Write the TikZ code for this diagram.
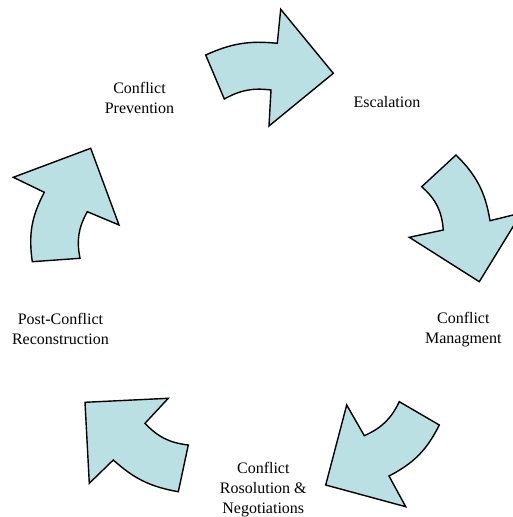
\documentclass[tikz,border=0pt]{standalone}
\usepackage{fontspec}
\setmainfont{Liberation Serif}
\definecolor{arrowfill}{RGB}{187,224,227}
\begin{document}
\begin{tikzpicture}[x=1pt,y=1pt,
  arr/.style={draw=black,fill=arrowfill,line width=1.4pt,line join=miter},
  lbl/.style={align=center,inner sep=0pt,font=\fontsize{16}{20}\selectfont}]
\useasboundingbox (0,0) rectangle (513,517);
% Arrow 1 (top)
\draw[arr] (205.7,462) to[bend left=15] (277.3,473.7) -- (280.7,507.7) -- (333.3,443.7) -- (269,391) -- (271,427) to[bend right=18] (224.3,418) -- cycle;
% Arrow 2 (right)
\draw[arr] (421.7,330.3) -- (456,362) to[bend left=18] (490,296.3) -- (521.5,304.1) -- (479.3,235.3) -- (409.3,279.7) -- (443.3,287) to[bend right=22] (421.7,330.3) -- cycle;
% Arrow 3 (bottom right)
\draw[arr] (399.3,115.3) -- (439.3,92) to[bend left=18] (389,41) -- (405.7,10.3) -- (325.7,32) -- (346.7,112) -- (364.3,81.3) to[bend right=20] (399.3,115.3) -- cycle;
% Arrow 4 (bottom left)
\draw[arr] (188.3,72) -- (178.3,25.3) to[bend left=16] (113.3,57) -- (89.3,33.7) -- (85,114.7) -- (168.3,118.7) -- (145,93.7) to[bend right=20] (188.3,72) -- cycle;
% Arrow 5 (left)
\draw[arr] (80,258.7) -- (32.3,255.3) to[bend left=18] (44.3,324.7) -- (13.3,339.7) -- (90.7,368.7) -- (119,292) -- (87.3,305.3) to[bend right=20] (80,258.7) -- cycle;
% Labels
\node[lbl] (prev) at (139.5,419.5) {Conflict\\Prevention};
\node[lbl] (esc) at (387,415) {Escalation};
\node[lbl] (man) at (463.3,187.5) {Conflict\\Managment};
\node[lbl] (neg) at (263.3,27) {Conflict\\Rosolution \&\\Negotiations};
\node[lbl] (post) at (60.5,188.5) {Post-Conflict\\Reconstruction};
\end{tikzpicture}
\end{document}
